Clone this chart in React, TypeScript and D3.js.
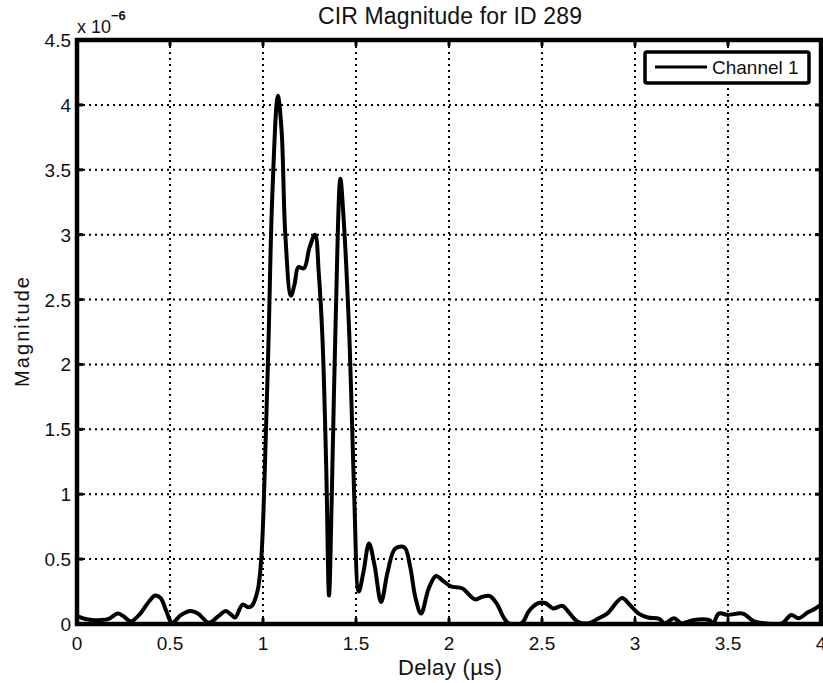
import React, { useEffect, useRef } from 'react';
import * as d3 from 'd3';

// delay in microseconds, magnitude in units of 1e-6
const delayUs = [
  0.0, 0.04, 0.08, 0.13, 0.17, 0.22, 0.25, 0.29, 0.34, 0.38, 0.42, 0.45, 0.48, 0.51,
  0.56, 0.61, 0.65, 0.71, 0.76, 0.8, 0.83, 0.85, 0.89, 0.92, 0.94, 0.97, 0.99, 1.01,
  1.03, 1.05, 1.08, 1.1, 1.12, 1.15, 1.17, 1.19, 1.22, 1.25, 1.28, 1.3, 1.32, 1.34,
  1.355, 1.37, 1.39, 1.416, 1.43, 1.465, 1.49, 1.515, 1.54, 1.57, 1.6, 1.635, 1.67,
  1.71, 1.76, 1.79, 1.82, 1.85, 1.89, 1.93, 1.97, 2.01, 2.07, 2.14, 2.18, 2.22, 2.26,
  2.29, 2.32, 2.39, 2.43, 2.48, 2.52, 2.56, 2.61, 2.65, 2.69, 2.75, 2.8, 2.85, 2.93,
  2.97, 3.02, 3.07, 3.13, 3.16, 3.21, 3.25, 3.31, 3.4, 3.42, 3.45, 3.5, 3.58, 3.64,
  3.7, 3.79, 3.84, 3.88, 3.93, 3.97, 4.0,
];
const magnitude = [
  0.06, 0.04, 0.03, 0.03, 0.04, 0.08, 0.06, 0.02, 0.08, 0.16, 0.22, 0.2, 0.1, 0.01,
  0.07, 0.1, 0.08, 0.01, 0.06, 0.1, 0.07, 0.05, 0.15, 0.13, 0.14, 0.25, 0.49, 1.2,
  2.2, 3.3, 4.07, 3.8, 3.0, 2.53, 2.62, 2.75, 2.74, 2.9, 3.0, 2.7, 2.19, 1.2,
  0.22, 1.0, 2.3, 3.43, 3.2, 2.19, 1.0, 0.25, 0.4, 0.62, 0.45, 0.17, 0.4,
  0.58, 0.59, 0.45, 0.2, 0.08, 0.27, 0.37, 0.33, 0.29, 0.275, 0.19, 0.21, 0.215, 0.15,
  0.06, 0.005, 0.005, 0.1, 0.16, 0.16, 0.12, 0.14, 0.08, 0.02, 0.005, 0.04, 0.08, 0.2,
  0.15, 0.08, 0.05, 0.04, 0.005, 0.045, 0.005, 0.03, 0.03, 0.005, 0.08, 0.07, 0.08, 0.02,
  0.005, 0.005, 0.07, 0.045, 0.09, 0.12, 0.15,
];

const xTicks = [0, 0.5, 1, 1.5, 2, 2.5, 3, 3.5, 4];
const yTicks = [0, 0.5, 1, 1.5, 2, 2.5, 3, 3.5, 4, 4.5];
const titleText = 'CIR Magnitude for ID 289';
const seriesName = 'Channel 1';

const W = 823;
const H = 683;
const FONT = '"Liberation Sans", Arial, Helvetica, sans-serif';

const App = () => {
  const svgRef = useRef<SVGSVGElement>(null);

  useEffect(() => {
    const svg = d3.select(svgRef.current);
    svg.selectAll('*').remove();

    const margin = { top: 40, right: 2, bottom: 59, left: 77 };
    const x = d3.scaleLinear().domain([0, 4]).range([margin.left, W - margin.right]);
    const y = d3.scaleLinear().domain([0, 4.5]).range([H - margin.bottom, margin.top]);

    svg.append('rect').attr('width', W).attr('height', H).attr('fill', '#fff');

    svg.append('defs').append('clipPath').attr('id', 'plot')
      .append('rect')
      .attr('x', x(0)).attr('y', y(4.5))
      .attr('width', x(4) - x(0)).attr('height', y(0) - y(4.5));

    // grid
    const grid = svg.append('g').attr('stroke', '#000').attr('stroke-width', 2)
      .attr('stroke-dasharray', '2 4');
    grid.selectAll('line.v').data(xTicks.slice(1, -1)).enter().append('line')
      .attr('x1', d => x(d)).attr('x2', d => x(d))
      .attr('y1', y(4.5)).attr('y2', y(0));
    grid.selectAll('line.h').data(yTicks.slice(1, -1)).enter().append('line')
      .attr('x1', x(0)).attr('x2', x(4))
      .attr('y1', d => y(d)).attr('y2', d => y(d));

    // inward ticks
    const ticks = svg.append('g').attr('stroke', '#000').attr('stroke-width', 3);
    xTicks.forEach(t => {
      ticks.append('line').attr('x1', x(t)).attr('x2', x(t)).attr('y1', y(0)).attr('y2', y(0) - 6);
      ticks.append('line').attr('x1', x(t)).attr('x2', x(t)).attr('y1', y(4.5)).attr('y2', y(4.5) + 6);
    });
    yTicks.forEach(t => {
      ticks.append('line').attr('x1', x(0)).attr('x2', x(0) + 6).attr('y1', y(t)).attr('y2', y(t));
      ticks.append('line').attr('x1', x(4)).attr('x2', x(4) - 6).attr('y1', y(t)).attr('y2', y(t));
    });

    // the curve
    const pts = delayUs.map((d, i) => [d, magnitude[i]] as [number, number]);
    const line = d3.line<[number, number]>()
      .x(d => x(d[0]))
      .y(d => y(d[1]))
      .curve(d3.curveCatmullRom.alpha(0.5));
    svg.append('path')
      .attr('clip-path', 'url(#plot)')
      .attr('d', line(pts))
      .attr('fill', 'none')
      .attr('stroke', '#000')
      .attr('stroke-width', 4)
      .attr('stroke-linejoin', 'round');

    // frame
    svg.append('rect')
      .attr('x', x(0)).attr('y', y(4.5))
      .attr('width', x(4) - x(0)).attr('height', y(0) - y(4.5))
      .attr('fill', 'none').attr('stroke', '#000').attr('stroke-width', 4.5);

    // tick labels
    const text = svg.append('g').attr('font-family', FONT).attr('fill', '#111');
    text.selectAll('text.xt').data(xTicks).enter().append('text')
      .attr('x', d => x(d)).attr('y', y(0) + 26)
      .attr('text-anchor', 'middle').attr('font-size', 19)
      .text(d => d3.format('~g')(d));
    text.selectAll('text.yt').data(yTicks).enter().append('text')
      .attr('x', x(0) - 6).attr('y', d => y(d) + 7)
      .attr('text-anchor', 'end').attr('font-size', 19)
      .text(d => d3.format('~g')(d));

    // exponent
    const expo = text.append('text').attr('x', x(0)).attr('y', 33).attr('font-size', 18);
    expo.append('tspan').text('x 10');
    expo.append('tspan').attr('dy', -13).attr('font-size', 13).attr('font-weight', 'bold').text('\u22126');

    // title and labels
    text.append('text').attr('x', 450).attr('y', 24).attr('text-anchor', 'middle')
      .attr('font-size', 23).attr('textLength', 264).text(titleText);
    text.append('text').attr('x', 450).attr('y', 675).attr('text-anchor', 'middle')
      .attr('font-size', 22).attr('textLength', 104).text('Delay (\u00b5s)');
    text.append('text')
      .attr('transform', `translate(29,${(y(0) + y(4.5)) / 2}) rotate(-90)`)
      .attr('text-anchor', 'middle').attr('font-size', 20).attr('textLength', 110)
      .text('Magnitude');

    // legend
    const lg = svg.append('g');
    lg.append('rect').attr('x', 645).attr('y', 52).attr('width', 164).attr('height', 31)
      .attr('rx', 2).attr('fill', '#fff').attr('stroke', '#000').attr('stroke-width', 3.5);
    lg.append('line').attr('x1', 655).attr('x2', 707).attr('y1', 67).attr('y2', 67)
      .attr('stroke', '#000').attr('stroke-width', 3);
    lg.append('text').attr('x', 712).attr('y', 74).attr('font-family', FONT)
      .attr('font-size', 19).attr('fill', '#111').text(seriesName);
  }, []);

  return (
    <svg ref={svgRef} width={W} height={H}
      style={{ position: 'absolute', left: 0, top: 0, display: 'block' }} />
  );
};

export default App;
